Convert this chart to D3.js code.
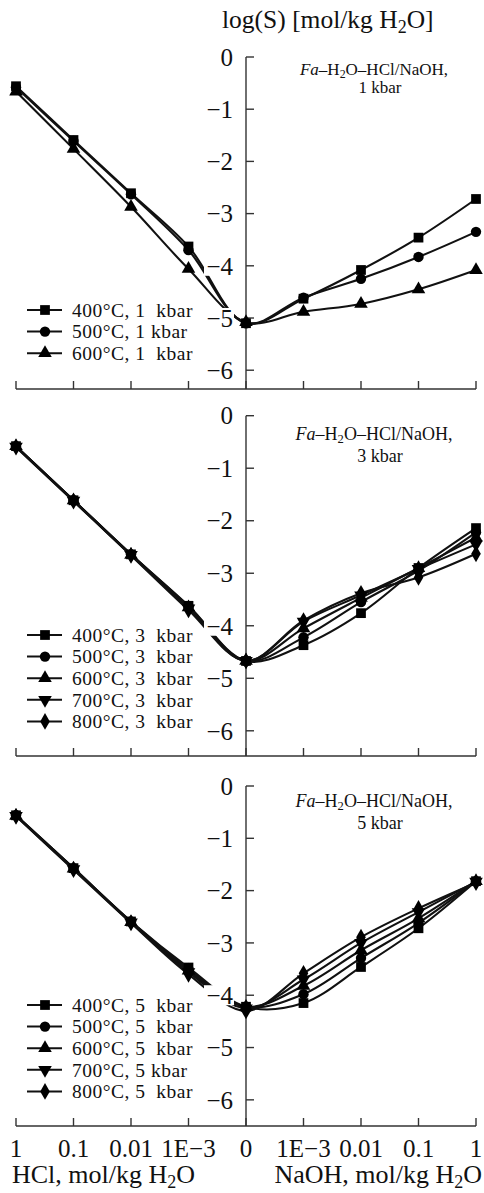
<!DOCTYPE html>
<html><head><meta charset="utf-8">
<script src="https://cdn.jsdelivr.net/npm/d3@7"></script>
<style>
html,body{margin:0;padding:0;background:#fff;}
svg{display:block;font-family:"Liberation Serif","Times New Roman",serif;}
text{white-space:pre;}
</style></head>
<body>
<svg id="chart" width="484" height="1193"></svg>
<script>
// ---- data ----
const xLabels = ["1","0.1","0.01","1E\u22123","0","1E\u22123","0.01","0.1","1"];
const yTicks = [0,-1,-2,-3,-4,-5,-6];

const temps1 = ["400\u00b0C, 1  kbar","500\u00b0C, 1 kbar","600\u00b0C, 1  kbar"];
const s400_1 = [-0.56,-1.59,-2.61,-3.63,-5.1,-4.63,-4.08,-3.46,-2.72];
const s500_1 = [-0.58,-1.61,-2.63,-3.7,-5.1,-4.61,-4.25,-3.83,-3.35];
const s600_1 = [-0.66,-1.76,-2.87,-4.06,-5.08,-4.88,-4.73,-4.45,-4.08];

const temps3 = ["400\u00b0C, 3  kbar","500\u00b0C, 3  kbar","600\u00b0C, 3  kbar","700\u00b0C, 3  kbar","800\u00b0C, 3  kbar"];
const s400_3 = [-0.58,-1.61,-2.64,-3.62,-4.67,-4.37,-3.76,-2.9,-2.14];
const s500_3 = [-0.58,-1.61,-2.64,-3.63,-4.67,-4.22,-3.55,-2.95,-2.22];
const s600_3 = [-0.58,-1.61,-2.65,-3.65,-4.67,-4.05,-3.47,-2.9,-2.32];
const s700_3 = [-0.59,-1.62,-2.65,-3.67,-4.67,-3.92,-3.42,-2.92,-2.45];
const s800_3 = [-0.6,-1.63,-2.66,-3.7,-4.67,-3.9,-3.38,-3.08,-2.63];

const temps5 = ["400\u00b0C, 5  kbar","500\u00b0C, 5  kbar","600\u00b0C, 5  kbar","700\u00b0C, 5 kbar","800\u00b0C, 5  kbar"];
const s400_5 = [-0.56,-1.57,-2.59,-3.47,-4.22,-4.15,-3.46,-2.72,-1.82];
const s500_5 = [-0.56,-1.57,-2.59,-3.5,-4.22,-3.98,-3.29,-2.62,-1.82];
const s600_5 = [-0.57,-1.58,-2.6,-3.53,-4.22,-3.82,-3.14,-2.53,-1.82];
const s700_5 = [-0.57,-1.59,-2.61,-3.56,-4.25,-3.7,-3.0,-2.41,-1.83];
const s800_5 = [-0.58,-1.6,-2.62,-3.6,-4.3,-3.58,-2.89,-2.34,-1.85];

const symbols = [d3.symbolSquare, d3.symbolCircle, d3.symbolTriangle, "down", d3.symbolDiamond];

const panels = [
  {y0:57, yb:389, ymin:-6.36, kbar:"1 kbar", ann:[75,93], fs:17, temps:temps1, series:[s400_1,s500_1,s600_1], legY:310},
  {y0:415.7, yb:756, ymin:-6.48, kbar:"3 kbar", ann:[440,462], fs:18, temps:temps3, series:[s400_3,s500_3,s600_3,s700_3,s800_3], legY:635},
  {y0:786, yb:1126, ymin:-6.5, kbar:"5 kbar", ann:[807,829], fs:18, temps:temps5, series:[s400_5,s500_5,s600_5,s700_5,s800_5], legY:1005}
];

const svg = d3.select("#chart");
svg.append("rect").attr("width",484).attr("height",1193).attr("fill","#fff");

const x = d3.scaleLinear().domain([0,8]).range([16,476]);
const xAxisX = x(4);
const axisCol = "#333";

function marker(sel, sym, cx, cy, size){
  if(sym==="down"){
    sel.append("path").attr("d", d3.symbol(d3.symbolTriangle, size)())
      .attr("transform",`translate(${cx},${cy}) rotate(180)`).attr("fill","#000");
  } else {
    sel.append("path").attr("d", d3.symbol(sym, size)())
      .attr("transform",`translate(${cx},${cy})`).attr("fill","#000");
  }
}
const symSize = [95, 85, 80, 80, 80];

panels.forEach(p=>{
  const y = d3.scaleLinear().domain([0,p.ymin]).range([p.y0,p.yb]);
  const g = svg.append("g");
  // axes
  g.append("line").attr("x1",x(0)).attr("x2",x(8)).attr("y1",p.yb).attr("y2",p.yb)
    .attr("stroke",axisCol).attr("stroke-width",1.4);
  x.ticks(9).forEach(i=>{
    g.append("line").attr("x1",x(i)).attr("x2",x(i)).attr("y1",p.yb).attr("y2",p.yb-8)
      .attr("stroke",axisCol).attr("stroke-width",1.4);
  });
  g.append("line").attr("x1",xAxisX).attr("x2",xAxisX).attr("y1",y(0)).attr("y2",p.yb)
    .attr("stroke",axisCol).attr("stroke-width",1.4);
  yTicks.forEach(t=>{
    g.append("line").attr("x1",xAxisX).attr("x2",xAxisX+8).attr("y1",y(t)).attr("y2",y(t))
      .attr("stroke",axisCol).attr("stroke-width",1.4);
  });
  // series
  const line = d3.line().x((d,i)=>x(i)).y(d=>y(d)).curve(d3.curveCatmullRom.alpha(0.5));
  p.series.forEach((s,k)=>{
    g.append("path").attr("d",line(s)).attr("fill","none").attr("stroke","#111").attr("stroke-width",2.1);
  });
  p.series.forEach((s,k)=>{
    s.forEach((v,i)=>marker(g, symbols[k], x(i), y(v), symSize[k]));
  });
  // y tick labels with white background
  yTicks.forEach(t=>{
    const lbl = t===0 ? "0" : "\u2212"+Math.abs(t);
    const w = t===0 ? 14 : 28;
    g.append("rect").attr("x",233-w-1).attr("y",y(t)-10).attr("width",w+2).attr("height",20).attr("fill","#fff");
    g.append("text").attr("x",233).attr("y",y(t)).attr("dy","0.35em").attr("text-anchor","end")
      .attr("font-size",25).attr("fill","#111").text(lbl);
  });
  // annotation
  const a1 = g.append("text").attr("x",374).attr("y",p.ann[0]).attr("text-anchor","middle")
    .attr("font-size",p.fs).attr("fill","#111");
  a1.append("tspan").attr("font-style","italic").text("Fa");
  a1.append("tspan").text("\u2013H");
  a1.append("tspan").attr("font-size",p.fs*0.7).attr("dy",3).text("2");
  a1.append("tspan").attr("dy",-3).text("O\u2013HCl/NaOH,");
  g.append("text").attr("x",380).attr("y",p.ann[1]).attr("text-anchor","middle")
    .attr("font-size",p.fs).attr("fill","#111").text(p.kbar);
  // legend
  p.temps.forEach((t,k)=>{
    const ly = p.legY + k*21.6;
    g.append("line").attr("x1",27).attr("x2",62).attr("y1",ly).attr("y2",ly).attr("stroke","#111").attr("stroke-width",2);
    marker(g, symbols[k], 45, ly, symSize[k]);
    g.append("text").attr("x",72).attr("y",ly).attr("dy","0.35em").attr("font-size",19.5)
      .attr("letter-spacing",0.5).attr("fill","#111").text(t);
  });
});

// y title
const yt = svg.append("text").attr("x",222).attr("y",28).attr("font-size",25.5).attr("fill","#111");
yt.append("tspan").text("log(S) [mol/kg H");
yt.append("tspan").attr("font-size",18).attr("dy",5).text("2");
yt.append("tspan").attr("dy",-5).text("O]");

// x tick labels (bottom panel)
xLabels.forEach((l,i)=>{
  svg.append("text").attr("x",x(i)).attr("y",1157).attr("text-anchor","middle")
    .attr("font-size",25).attr("fill","#111").text(l);
});
// x titles
const xt1 = svg.append("text").attr("x",12).attr("y",1183).attr("font-size",26).attr("fill","#111");
xt1.append("tspan").text("HCl, mol/kg H");
xt1.append("tspan").attr("font-size",18).attr("dy",5).text("2");
xt1.append("tspan").attr("dy",-5).text("O");
const xt2 = svg.append("text").attr("x",482).attr("y",1183).attr("text-anchor","end").attr("font-size",26).attr("fill","#111");
xt2.append("tspan").text("NaOH, mol/kg H");
xt2.append("tspan").attr("font-size",18).attr("dy",5).text("2");
xt2.append("tspan").attr("dy",-5).text("O");
</script>
</body></html>
